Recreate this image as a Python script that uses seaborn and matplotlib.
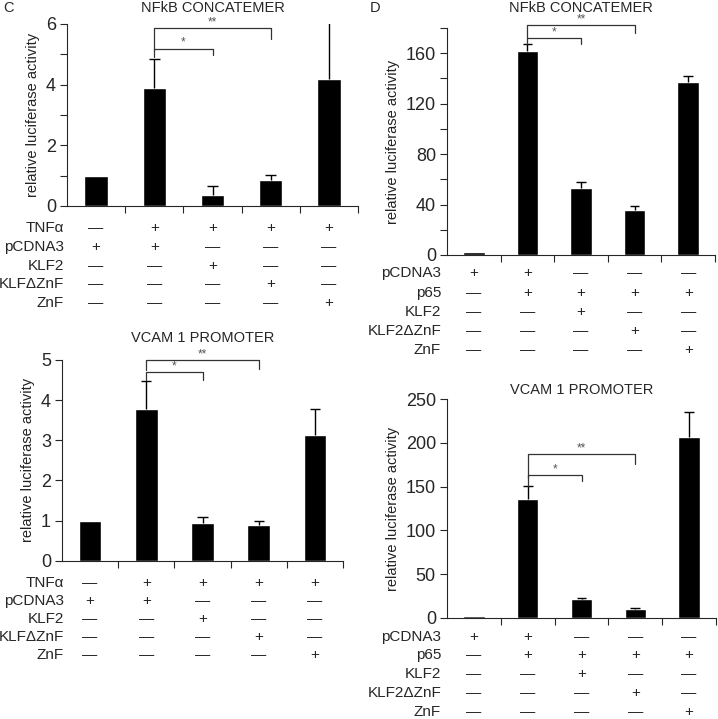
import numpy as np
import pandas as pd
import matplotlib
matplotlib.use("Agg")
import matplotlib.pyplot as plt
import matplotlib.transforms as mtransforms
from matplotlib.ticker import MultipleLocator
import seaborn as sns

# ===============================
# Data
# ===============================
conditions = ["1", "2", "3", "4", "5"]

# panel C - TNFa stimulation
c_nfkb_mean = [1.0, 3.9, 0.35, 0.87, 4.2]
c_nfkb_err = [0.0, 0.95, 0.3, 0.15, 1.85]
c_vcam_mean = [1.0, 3.78, 0.95, 0.9, 3.13]
c_vcam_err = [0.0, 0.7, 0.13, 0.1, 0.65]

c_rows = ["TNF\u03b1", "pCDNA3", "KLF2", "KLF\u0394ZnF", "ZnF"]
c_table = [
    [0, 1, 1, 1, 1],
    [1, 1, 0, 0, 0],
    [0, 0, 1, 0, 0],
    [0, 0, 0, 1, 0],
    [0, 0, 0, 0, 1],
]

# panel D - p65 overexpression
d_nfkb_mean = [2, 162, 53, 36, 137]
d_nfkb_err = [0, 5, 5, 3, 5]
d_vcam_mean = [1.5, 136, 21, 10, 207]
d_vcam_err = [0, 15, 2, 1, 28]

d_rows = ["pCDNA3", "p65", "KLF2", "KLF2\u0394ZnF", "ZnF"]
d_table = [
    [1, 1, 0, 0, 0],
    [0, 1, 1, 1, 1],
    [0, 0, 1, 0, 0],
    [0, 0, 0, 1, 0],
    [0, 0, 0, 0, 1],
]

sns.set_style("ticks")
plt.rcParams["font.family"] = ["Liberation Sans", "DejaVu Sans"]

W, H = 718, 719
fig = plt.figure(figsize=(W / 100, H / 100), dpi=100)


def px_axes(left, right, y0, ytop):
    # axes rectangle from pixel coordinates of the reference
    return fig.add_axes([left / W, 1 - y0 / H, (right - left) / W, (y0 - ytop) / H])


def bar_panel(ax, means, errs, ymax, major, minor, title, title_y, brackets):
    df = pd.DataFrame({"cond": conditions, "val": means})
    sns.barplot(data=df, x="cond", y="val", color="black", saturation=1,
                width=0.4, errorbar=None, ax=ax)
    # upper-only error bars with a cap on top
    idx = [i for i, e in enumerate(errs) if e > 0]
    tops = [means[i] + errs[i] for i in idx]
    ax.vlines(idx, [means[i] for i in idx], tops, color="black", lw=1)
    ax.hlines(tops, [i - 0.09 for i in idx], [i + 0.09 for i in idx], color="black", lw=1)
    ax.set_xlim(-0.5, 4.5)
    ax.set_ylim(0, ymax)
    ax.yaxis.set_major_locator(MultipleLocator(major))
    if minor:
        ax.yaxis.set_minor_locator(MultipleLocator(minor))
    ax.set_xticks([0.5, 1.5, 2.5, 3.5, 4.5])
    ax.set_xticklabels([])
    ax.tick_params(axis="y", labelsize=13, length=5, width=0.8, pad=3)
    ax.tick_params(axis="y", which="minor", length=5, width=0.8)
    ax.tick_params(axis="x", length=5, width=0.8)
    ax.set_xlabel("")
    ax.set_ylabel("relative luciferase activity", fontsize=10.5, color="#222222", labelpad=4)
    for s in ["top", "right"]:
        ax.spines[s].set_visible(False)
    for s in ["left", "bottom"]:
        ax.spines[s].set_linewidth(0.8)
    fig.text((ax.get_position().x0 + ax.get_position().x1) / 2, title_y, title,
             ha="center", va="top", fontsize=10.5)
    # significance brackets
    for i, j, ytop, yl, yr, lab in brackets:
        ax.plot([i, i, j, j], [yl, ytop, ytop, yr], color="#333333", lw=0.9,
                clip_on=False)
        ax.annotate(lab, ((i + j) / 2, ytop), xytext=(0, 0), textcoords="offset points",
                    ha="center", va="bottom", fontsize=8.5, color="#555555",
                    annotation_clip=False)


def condition_table(ax, rows, table, row_y, label_x):
    trans = mtransforms.blended_transform_factory(ax.transData, fig.transFigure)
    for r, (name, yy) in enumerate(zip(rows, row_y)):
        fy = 1 - yy / H
        fig.text(label_x / W, fy, name, ha="right", va="center", fontsize=11)
        for k, flag in enumerate(table[r]):
            ax.text(k, fy, "+" if flag else "\u2014", transform=trans,
                    ha="center", va="center", fontsize=11)


# panel C top
ax1 = px_axes(67, 358, 206, 24)
bar_panel(ax1, c_nfkb_mean, c_nfkb_err, 6, 2, 1, "NFkB CONCATEMER", 1 - 0.5 / H,
          [(1, 3, 5.87, 5.15, 5.5, "**"), (1, 2, 5.18, 4.9, 4.98, "*")])
condition_table(ax1, c_rows, c_table, [228, 247, 266, 284, 303], 64)

# panel C bottom
ax2 = px_axes(62, 343, 560.7, 360)
bar_panel(ax2, c_vcam_mean, c_vcam_err, 5, 1, None, "VCAM 1 PROMOTER", 1 - 331 / H,
          [(1, 3, 5.0, 4.75, 4.77, "**"), (1, 2, 4.7, 4.5, 4.5, "*")])
condition_table(ax2, c_rows, c_table, [583, 601, 619, 637, 655], 64)

# panel D top
ax3 = px_axes(447, 715, 255, 28)
bar_panel(ax3, d_nfkb_mean, d_nfkb_err, 180, 40, 20, "NFkB CONCATEMER", 1 - 0.5 / H,
          [(1, 3, 182, 172, 176, "**"), (1, 2, 172, 167, 167, "*")])
condition_table(ax3, d_rows, d_table, [273, 293, 312, 331, 350], 441)

# panel D bottom
ax4 = px_axes(447, 716, 617.7, 399.3)
bar_panel(ax4, d_vcam_mean, d_vcam_err, 250, 50, None, "VCAM 1 PROMOTER", 1 - 383 / H,
          [(1, 3, 187, 160, 176, "**"), (1, 2, 163, 151, 156, "*")])
condition_table(ax4, d_rows, d_table, [637, 655, 674, 693, 712], 441)

# panel letters
fig.text(3 / W, 1 - 0.5 / H, "C", ha="left", va="top", fontsize=10.5)
fig.text(370 / W, 1 - 0.5 / H, "D", ha="left", va="top", fontsize=10.5)

fig.savefig("out.png", dpi=100)
plt.close(fig)
